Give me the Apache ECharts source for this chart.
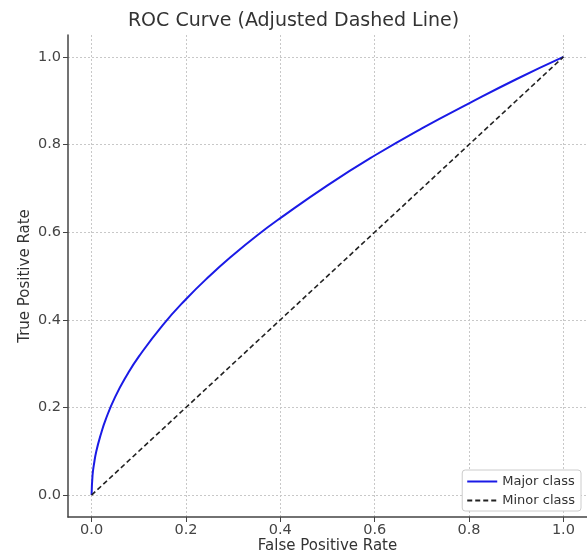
<!DOCTYPE html>
<html>
<head>
<meta charset="utf-8">
<script src="https://cdn.jsdelivr.net/npm/echarts@6/dist/echarts.min.js"></script>
<style>
  html, body { margin: 0; padding: 0; background: #fff; }
  #main { width: 587px; height: 555px; }
</style>
</head>
<body>
<div id="main"></div>
<script>
// ROC curve points
var fprValues = [0, 0.002, 0.005, 0.01, 0.02, 0.03, 0.05, 0.075, 0.1, 0.15, 0.2, 0.25, 0.3, 0.35, 0.4, 0.5, 0.6, 0.7, 0.8, 0.9, 1.0];
var tprValues = [0, 0.045, 0.07, 0.1, 0.14, 0.173, 0.224, 0.274, 0.316, 0.387, 0.447, 0.5, 0.548, 0.592, 0.632, 0.707, 0.775, 0.837, 0.894, 0.949, 1.0];
var diagX = [0, 1];
var diagY = [0, 1];
var tickValues = [0, 0.2, 0.4, 0.6, 0.8, 1.0];

var majorData = fprValues.map(function (x, i) { return [x, tprValues[i]]; });
var minorData = diagX.map(function (x, i) { return [x, diagY[i]]; });

var myChart = echarts.init(document.getElementById('main'));

var axisCommon = {
    type: 'value',
    min: -0.05,
    max: 1.05,
    nameLocation: 'middle',
    nameMoveOverlap: false,
    nameTextStyle: { color: '#333', fontSize: 15, fontFamily: 'DejaVu Sans' },
    axisLine: { show: true, onZero: false, lineStyle: { color: '#444', width: 1.5 } },
    axisTick: {
        show: true, inside: false, length: 5,
        customValues: tickValues,
        lineStyle: { color: '#444', width: 1 }
    },
    axisLabel: {
        customValues: tickValues,
        color: '#444', fontSize: 14.5, fontFamily: 'DejaVu Sans',
        formatter: function (v) { return v.toFixed(1); }
    },
    splitLine: {
        show: true,
        lineStyle: { type: [2, 2], color: '#c8c8c8', width: 1 }
    }
};

var option = {
    backgroundColor: '#fff',
    animation: false,
    title: {
        text: 'ROC Curve (Adjusted Dashed Line)',
        left: 'center',
        top: 7,
        textStyle: { fontSize: 19, fontWeight: 'normal', color: '#333', fontFamily: 'DejaVu Sans' }
    },
    grid: { left: 68, right: 0, top: 35, bottom: 38, containLabel: false, outerBoundsMode: 'none' },
    xAxis: Object.assign({}, axisCommon, {
        name: 'False Positive Rate',
        nameGap: 22,
        axisLabel: Object.assign({}, axisCommon.axisLabel, { margin: 6 })
    }),
    yAxis: Object.assign({}, axisCommon, {
        name: 'True Positive Rate',
        nameGap: 35,
        axisLabel: Object.assign({}, axisCommon.axisLabel, { margin: 7 })
    }),
    legend: {
        orient: 'vertical',
        right: 6,
        bottom: 44,
        backgroundColor: '#fff',
        borderColor: '#ccc',
        borderWidth: 1,
        borderRadius: 3,
        padding: [5, 6, 4, 4],
        itemGap: 6,
        itemWidth: 30,
        itemHeight: 10,
        itemStyle: { opacity: 0 },
        textStyle: { fontSize: 13, color: '#333', fontFamily: 'DejaVu Sans' },
        data: ['Major class', 'Minor class']
    },
    series: [{
        name: 'Major class',
        type: 'line',
        data: majorData,
        smooth: true,
        showSymbol: false,
        symbol: 'none',
        lineStyle: { color: '#1a1ae6', width: 2 },
        itemStyle: { color: '#1a1ae6' }
    }, {
        name: 'Minor class',
        type: 'line',
        data: minorData,
        showSymbol: false,
        symbol: 'none',
        lineStyle: { color: '#222', width: 1.6, type: [5, 3] },
        itemStyle: { color: '#222' }
    }]
};
myChart.setOption(option);
</script>
</body>
</html>
